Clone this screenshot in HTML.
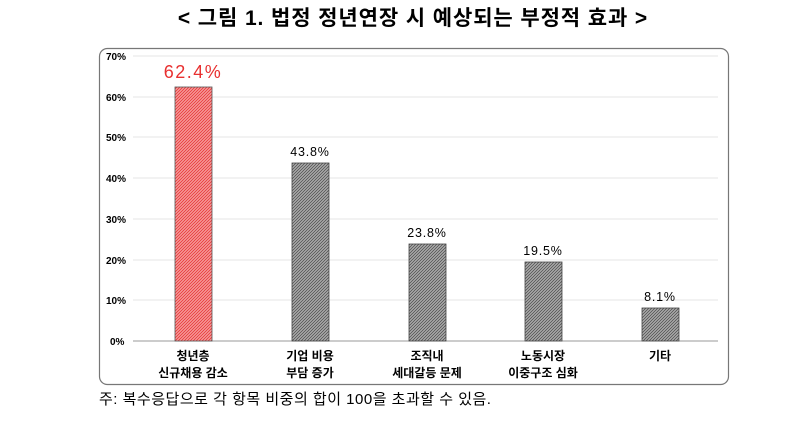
<!DOCTYPE html>
<html><head><meta charset="utf-8"><style>
body{margin:0;background:#fff;width:800px;height:421px;overflow:hidden;font-family:"Liberation Sans","Noto Sans CJK KR",sans-serif;}
</style></head><body>
<svg width="800" height="421" xmlns="http://www.w3.org/2000/svg" font-family="Liberation Sans, Noto Sans CJK KR, sans-serif">
<defs>
<pattern id="g" width="3" height="3" patternUnits="userSpaceOnUse"><rect width="3" height="3" fill="#b8b8b8"/><path d="M0,3L3,0M-1,1L1,-1M2,4L4,2" stroke="#5a5a5a" stroke-width="1"/></pattern>
<pattern id="r" width="3" height="3" patternUnits="userSpaceOnUse"><rect width="3" height="3" fill="#f8a8a8"/><path d="M0,3L3,0M-1,1L1,-1M2,4L4,2" stroke="#e84040" stroke-width="1"/></pattern>
</defs>
<text x="413" y="25" text-anchor="middle" font-size="21" font-weight="bold" fill="#000" letter-spacing="0.9">&lt; 그림 1. 법정 정년연장 시 예상되는 부정적 효과 &gt;</text>
<rect x="99.5" y="48.5" width="629" height="336" rx="8" fill="#fff" stroke="#777" stroke-width="1.2"/>
<g stroke="#e4e4e4" stroke-width="1">
<line x1="133" x2="718" y1="56" y2="56"/><line x1="133" x2="718" y1="97" y2="97"/><line x1="133" x2="718" y1="137" y2="137"/><line x1="133" x2="718" y1="178" y2="178"/><line x1="133" x2="718" y1="219" y2="219"/><line x1="133" x2="718" y1="260" y2="260"/><line x1="133" x2="718" y1="300" y2="300"/>
</g>
<line x1="133" x2="718" y1="341" y2="341" stroke="#999" stroke-width="1"/>
<g font-size="10" fill="#000" font-weight="bold">
<text x="106" y="60">70%</text><text x="106" y="101">60%</text><text x="106" y="141">50%</text><text x="106" y="182">40%</text><text x="106" y="223">30%</text><text x="106" y="264">20%</text><text x="106" y="304">10%</text><text x="110" y="345">0%</text>
</g>
<rect x="175" y="87" width="37" height="254" fill="url(#r)" stroke="#555" stroke-width="0.8"/>
<rect x="292" y="163" width="37" height="178" fill="url(#g)" stroke="#444" stroke-width="0.8"/>
<rect x="409" y="244" width="37" height="97" fill="url(#g)" stroke="#444" stroke-width="0.8"/>
<rect x="525" y="262" width="37" height="79" fill="url(#g)" stroke="#444" stroke-width="0.8"/>
<rect x="642" y="308" width="37" height="33" fill="url(#g)" stroke="#444" stroke-width="0.8"/>
<text x="193" y="78" text-anchor="middle" font-size="18" fill="#e83030" letter-spacing="1.5">62.4%</text>
<g font-size="12.5" fill="#000" text-anchor="middle" letter-spacing="0.8">
<text x="310" y="156">43.8%</text><text x="427" y="237">23.8%</text><text x="543" y="255">19.5%</text><text x="660" y="301">8.1%</text>
</g>
<g font-size="12" font-weight="bold" fill="#000" text-anchor="middle">
<text x="193" y="360">청년층</text><text x="193" y="377">신규채용 감소</text>
<text x="310" y="360">기업 비용</text><text x="310" y="377">부담 증가</text>
<text x="427" y="360">조직내</text><text x="427" y="377">세대갈등 문제</text>
<text x="543" y="360">노동시장</text><text x="543" y="377">이중구조 심화</text>
<text x="660" y="360">기타</text>
</g>
<text x="99" y="404" font-size="15" fill="#000" letter-spacing="0.5">주: 복수응답으로 각 항목 비중의 합이 100을 초과할 수 있음.</text>
</svg>
</body></html>
